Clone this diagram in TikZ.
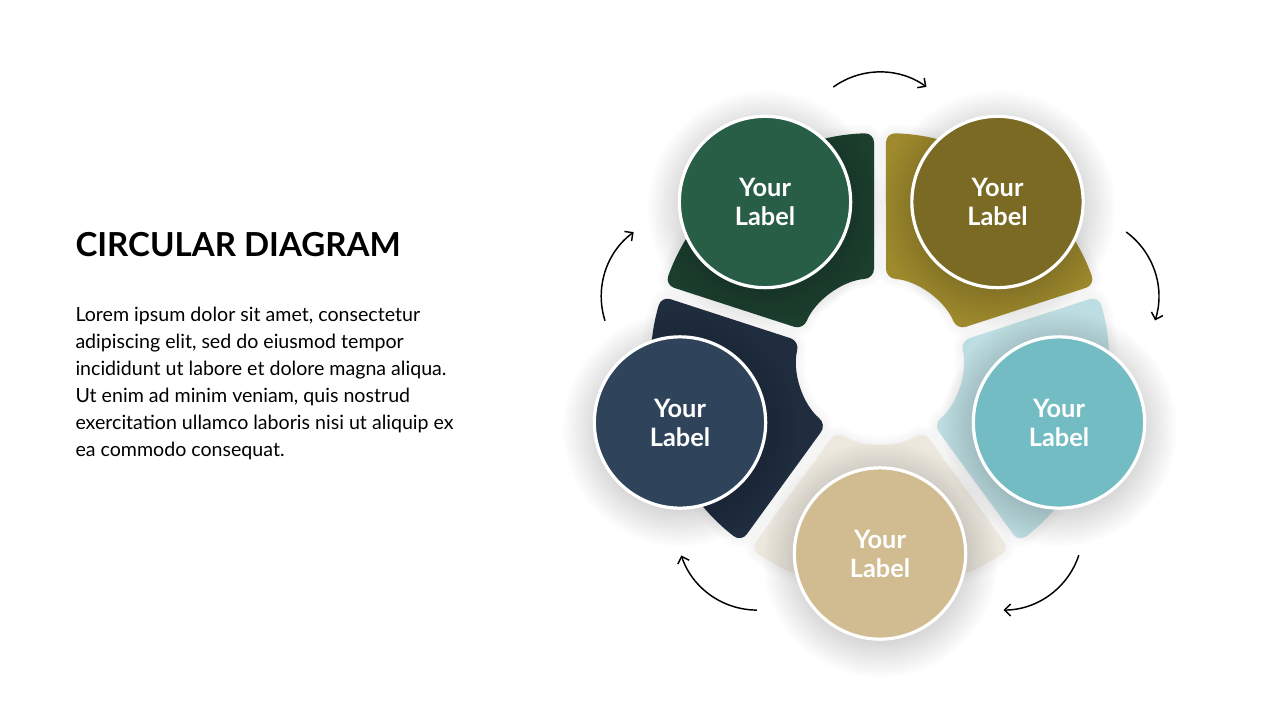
\documentclass[tikz,border=0pt]{standalone}
\usepackage{fontspec}
\setmainfont{Lato}
\usetikzlibrary{calc,arrows.meta,shadows.blur,fadings}

\definecolor{grnSeg}{HTML}{1C3F2E}
\definecolor{grnDot}{HTML}{285E45}
\definecolor{oliSeg}{HTML}{9E8A2D}
\definecolor{oliDot}{HTML}{7A6A23}
\definecolor{tealSeg}{HTML}{BCDDE1}
\definecolor{tealDot}{HTML}{74BCC4}
\definecolor{bgeSeg}{HTML}{ECE8DE}
\definecolor{bgeDot}{HTML}{D0BC90}
\definecolor{navSeg}{HTML}{1F2D3F}
\definecolor{navDot}{HTML}{2F435B}

\tikzfading[name=softglow,inner color=transparent!0,outer color=transparent!100]
\tikzset{every picture/.style={line width=0.75pt}}

\begin{document}
\begin{tikzpicture}[x=0.75pt,y=0.75pt,yscale=-1,xscale=1,
  dot/.style={circle,draw=white,line width=2.4pt,minimum size=128.5pt,inner sep=0pt,
    text=white,align=center,font=\bfseries\fontsize{19}{21.75}\selectfont},
  halo/.style={fill=black,fill opacity=0.5,path fading=softglow},
  segshadow/.style={blur shadow={shadow xshift=0pt,shadow yshift=0pt,shadow blur radius=8pt,shadow blur steps=16,shadow opacity=10}},
  flow/.style={line width=1.1pt,line cap=round,-{Straight Barb[length=4.5pt,width=9pt]}}]
%set diagram left start at 0, and has size 1280 x 720
\useasboundingbox (0,0) rectangle (1280,720);

\coordinate (c) at (880,361);
\coordinate (pGreen) at (765,202);
\coordinate (pOlive) at (997.5,202);
\coordinate (pTeal) at (1059,422.5);
\coordinate (pBeige) at (880,553.5);
\coordinate (pNavy) at (680,422.5);

% Text Node
\node (title) at (75,257) [anchor=base west,inner sep=0pt,font=\bfseries\fontsize{24.8}{29}\selectfont] {CIRCULAR DIAGRAM};
% Text Node
\node (body) at (75,307) [anchor=north west,inner sep=0pt,align=left,font=\fontsize{14.7}{20.25}\selectfont] {Lorem ipsum dolor sit amet, consectetur\\adipiscing elit, sed do eiusmod tempor\\incididunt ut labore et dolore magna aliqua.\\Ut enim ad minim veniam, quis nostrud\\exercitation ullamco laboris nisi ut aliquip ex\\ea commodo consequat.};

%Shape: Ring segments
\foreach \s/\col in {-126/grnSeg,-54/oliSeg,18/tealSeg,90/bgeSeg,162/navSeg}{
  \fill[\col,rounded corners=7pt,segshadow] ($(c)+(\s-34.5:228)$) arc[start angle=\s-34.5,end angle=\s+34.5,radius=228]
    -- ($(c)+(\s+31.85:83)$) arc[start angle=\s+31.85,end angle=\s-31.85,radius=83] -- cycle;
}

%Shape: Circle shadows
\foreach \p in {pGreen,pOlive,pTeal,pBeige,pNavy}{
  \fill[halo] ($(\p)+(0,6)$) circle[radius=118];
}

%Shape: Circles
\node (green) at (pGreen) [dot,fill=grnDot] {Your\\Label};
\node (olive) at (pOlive) [dot,fill=oliDot] {Your\\Label};
\node (teal) at (pTeal) [dot,fill=tealDot] {Your\\Label};
\node (beige) at (pBeige) [dot,fill=bgeDot] {Your\\Label};
\node (navy) at (pNavy) [dot,fill=navDot] {Your\\Label};

%Curve Lines
\foreach \g in {-90,-18,54,126,198}{
  \draw[flow] ($(c)+(\g:209)+(\g-35.5:80)$) arc[start angle=\g-35.5,end angle=\g+35.5,radius=80];
}

\end{tikzpicture}
\end{document}
